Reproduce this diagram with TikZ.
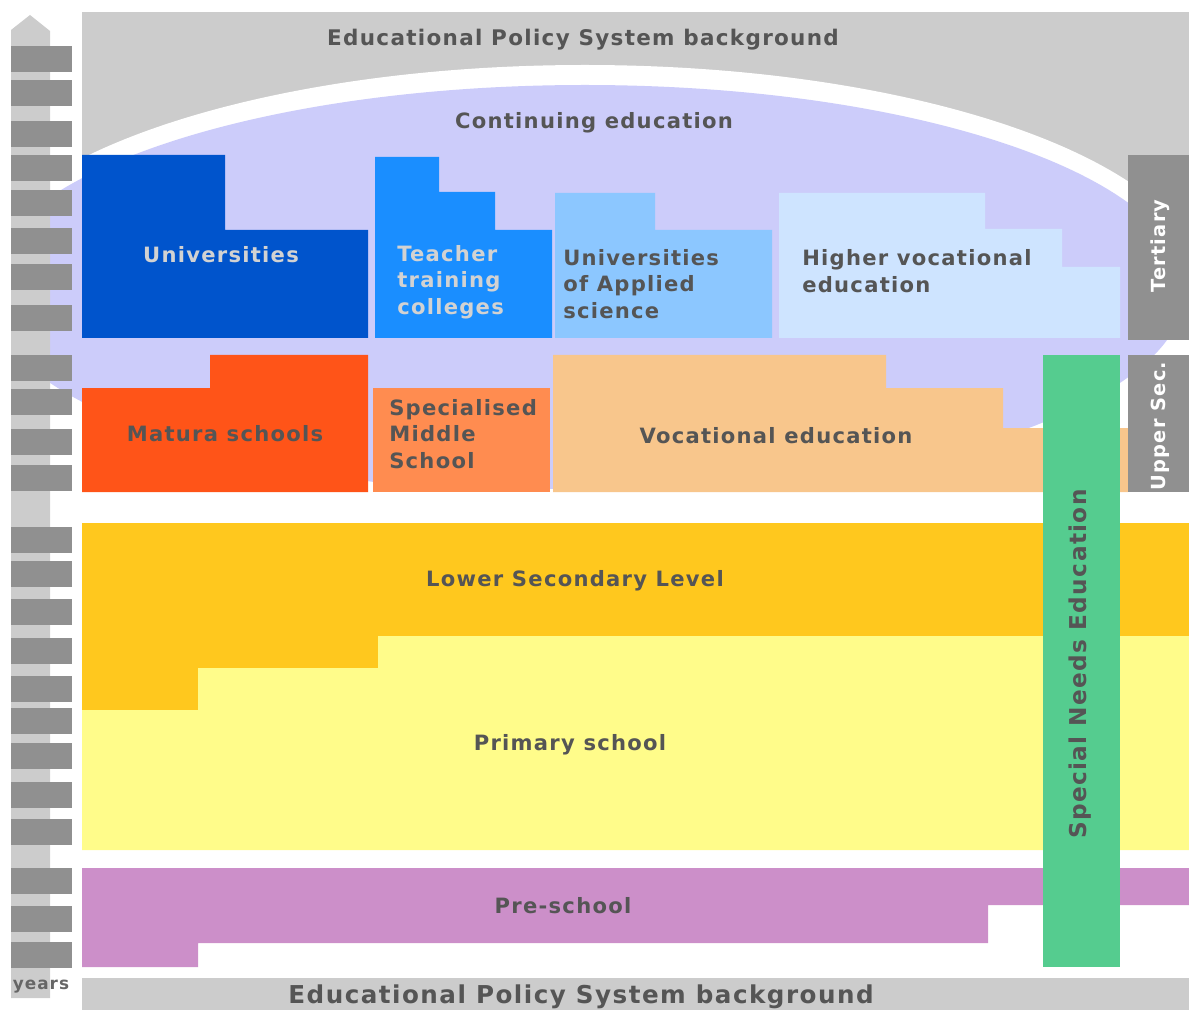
\documentclass[tikz,border=0pt]{standalone}
\usepackage{fontspec}
\newfontfamily\lblfont[LetterSpace=6.0]{DejaVu Sans}
\usepackage{xcolor}
\definecolor{bandgrey}{RGB}{204,204,204}
\definecolor{rulergrey}{RGB}{144,144,144}
\definecolor{lavender}{RGB}{204,204,250}
\definecolor{unidark}{RGB}{0,84,204}
\definecolor{teachblue}{RGB}{26,142,255}
\definecolor{appliedblue}{RGB}{140,199,255}
\definecolor{hvoclight}{RGB}{206,228,255}
\definecolor{maturared}{RGB}{255,84,24}
\definecolor{specorange}{RGB}{255,140,80}
\definecolor{vocpeach}{RGB}{248,198,140}
\definecolor{lowergold}{RGB}{255,200,30}
\definecolor{primyellow}{RGB}{255,252,138}
\definecolor{prepurple}{RGB}{204,143,201}
\definecolor{sengreen}{RGB}{85,204,143}
\definecolor{textgrey}{RGB}{85,85,85}
\definecolor{palegrey}{RGB}{210,210,210}
\usepackage{tikz}
\tikzset{
	lbl/.style     = {inner sep=0pt,text=textgrey,
		font=\lblfont\bfseries\fontsize{15}{18.9}\selectfont},
	lbllight/.style= {lbl,text=palegrey},
	block/.style   = {lbl,align=left,anchor=west},
	side/.style    = {lbl,text=white,rotate=90,
		font=\lblfont\bfseries\fontsize{13.8}{16}\selectfont},
	band/.style    = {lbl,font=\lblfont\bfseries\fontsize{15.3}{18}\selectfont},
}

\begin{document}
\begin{tikzpicture}[x=0.025cm,y=-0.025cm]
	\useasboundingbox (0,0) rectangle (1189,1010);
	
	%% Hintergrund
	\fill[bandgrey] (82,12) rectangle (1189,240);
	\fill[white] (585,290) ellipse [x radius=620,y radius=225];
	\begin{scope}
		\clip (11,0) rectangle (1189,488);
		\fill[lavender] (585,290) ellipse [x radius=600,y radius=205];
	\end{scope}
	\fill[bandgrey] (82,978) rectangle (1189,1010);
	
	%% Jahresleiste
	\fill[bandgrey] (11,998) -- (11,30) -- (30,15) -- (50,31) -- (50,998) -- cycle;
	\foreach \t in {46,80,121,155,190,228,264,305,355,389,429,465,
		527,561,599,638,676,708,743,782,819,868,906,942}
	\fill[rulergrey] (11,\t) rectangle (72,\t+26);
	
	%% Tertiaer
	\fill[unidark] (82,155) -- (225,155) -- (225,230) -- (368,230)
	-- (368,338) -- (82,338) -- cycle;
	\fill[teachblue] (375,157) -- (439,157) -- (439,192) -- (495,192)
	-- (495,230) -- (552,230) -- (552,338) -- (375,338) -- cycle;
	\fill[appliedblue] (555,193) -- (655,193) -- (655,230) -- (772,230)
	-- (772,338) -- (555,338) -- cycle;
	\fill[hvoclight] (779,193) -- (985,193) -- (985,229) -- (1062,229)
	-- (1062,267) -- (1120,267) -- (1120,338) -- (779,338) -- cycle;
	\fill[rulergrey] (1128,155) rectangle (1189,340);
	
	%% Sekundarstufe II
	\fill[maturared] (82,388) -- (210,388) -- (210,355) -- (368,355)
	-- (368,492) -- (82,492) -- cycle;
	\fill[specorange] (373,388) rectangle (550,492);
	\fill[vocpeach] (553,355) -- (886,355) -- (886,388) -- (1003,388)
	-- (1003,428) -- (1128,428) -- (1128,492) -- (553,492) -- cycle;
	\fill[rulergrey] (1128,355) rectangle (1189,492);
	
	%% Pflichtschule
	\fill[lowergold] (82,523) -- (1189,523) -- (1189,636) -- (378,636)
	-- (378,668) -- (198,668) -- (198,710) -- (82,710) -- cycle;
	\fill[primyellow] (82,710) -- (198,710) -- (198,668) -- (378,668)
	-- (378,636) -- (1189,636) -- (1189,850) -- (82,850) -- cycle;
	\fill[prepurple] (82,868) -- (1189,868) -- (1189,905) -- (988,905)
	-- (988,943) -- (198,943) -- (198,967) -- (82,967) -- cycle;
	\fill[sengreen] (1043,355) rectangle (1120,967);
	
	%% Beschriftungen
	\node (bgtop) [band] at (583,40) {Educational Policy System background};
	\node (cont)  [lbl] at (594,123) {Continuing education};
	\node (uni)   [lbllight] at (221,255) {Universities};
	\node (teach) [block,text=palegrey] at (397,282) {Teacher\\training\\colleges};
	\node (appl)  [block] at (563,284) {Universities\\of Applied\\science};
	\node (hvoc)  [block] at (802,271) {Higher vocational\\education};
	\node (tert)  [side] at (1160,246) {Tertiary};
	\node (mat)   [lbl] at (225,434) {Matura schools};
	\node (spec)  [block] at (389,434) {Specialised\\Middle\\School};
	\node (voc)   [lbl] at (776,436) {Vocational education};
	\node (upsec) [side] at (1160,426) {Upper Sec.};
	\node (sen)   [lbl,rotate=90,
	font=\lblfont\bfseries\fontsize{16.5}{19}\selectfont] at (1080,664)
	{Special Needs Education};
	\node (lower) [lbl] at (575,581) {Lower Secondary Level};
	\node (prim)  [lbl] at (570,745) {Primary school};
	\node (pre)   [lbl] at (563,906) {Pre-school};
	\node (bgbot) [band,font=\lblfont\bfseries\fontsize{17.5}{20}\selectfont]
	at (581,997) {Educational Policy System background};
	\node (years) [lbl,font=\lblfont\bfseries\fontsize{12}{14}\selectfont,
	text=textgrey!90] at (41,987) {years};
\end{tikzpicture}
\end{document}
